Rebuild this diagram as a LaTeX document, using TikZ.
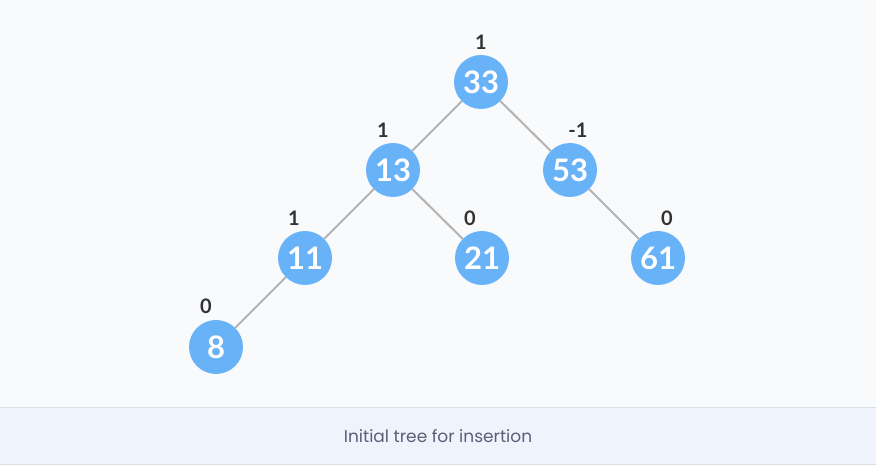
\documentclass[tikz,border=0pt]{standalone}
\usepackage{fontspec}
\setmainfont{Lato}
\newfontfamily\capfont{Poppins}
\definecolor{nodeblue}{HTML}{68B2F8}
\definecolor{edgegray}{HTML}{B3B3B3}
\definecolor{bgpage}{HTML}{F9FAFC}
\definecolor{bgcap}{HTML}{EFF4FC}
\definecolor{capline}{HTML}{D9DDE4}
\definecolor{captext}{HTML}{5B5F78}
\definecolor{baltext}{HTML}{333333}
\tikzset{
  key/.style={circle, fill=nodeblue, minimum size=54pt, inner sep=0pt, text=white, font=\fontsize{31}{31}\selectfont\bfseries},
  bal/.style={text=baltext, font=\fontsize{20}{20}\selectfont\bfseries},
  edge/.style={draw=edgegray, line width=2pt}
}
\begin{document}
\begin{tikzpicture}[x=1pt, y=-1pt]
\useasboundingbox (0,0) rectangle (876,465);
\fill[bgpage] (0,0) rectangle (876,465);
\fill[bgcap] (0,407) rectangle (876,465);
\draw[capline, line width=1pt] (0,407) -- (876,407);
\draw[capline, line width=1pt] (0,464.5) -- (876,464.5);

\node[key] (n33) at (481,82) {33};
\node[key] (n13) at (393,170) {13};
\node[key] (n53) at (570,170) {53};
\node[key] (n11) at (305,258) {11};
\node[key] (n21) at (482,258) {21};
\node[key] (n61) at (658,258) {61};
\node[key] (n8) at (216,347) {8};

\node[bal] (b33) at (481,42) {1};
\node[bal] (b13) at (383,130) {1};
\node[bal] (b53) at (578,130) {-1};
\node[bal] (b11) at (294,218) {1};
\node[bal] (b21) at (470,218) {0};
\node[bal] (b61) at (667,218) {0};
\node[bal] (b8) at (206,306) {0};

\node[text=captext, font=\capfont\fontsize{17}{17}\selectfont] (cap) at (438,436) {Initial tree for insertion};

\draw[edge] (n33) -- (n13);
\draw[edge] (n33) -- (n53);
\draw[edge] (n13) -- (n11);
\draw[edge] (n13) -- (n21);
\draw[edge] (n53) -- (n61);
\draw[edge] (n11) -- (n8);

\end{tikzpicture}
\end{document}
